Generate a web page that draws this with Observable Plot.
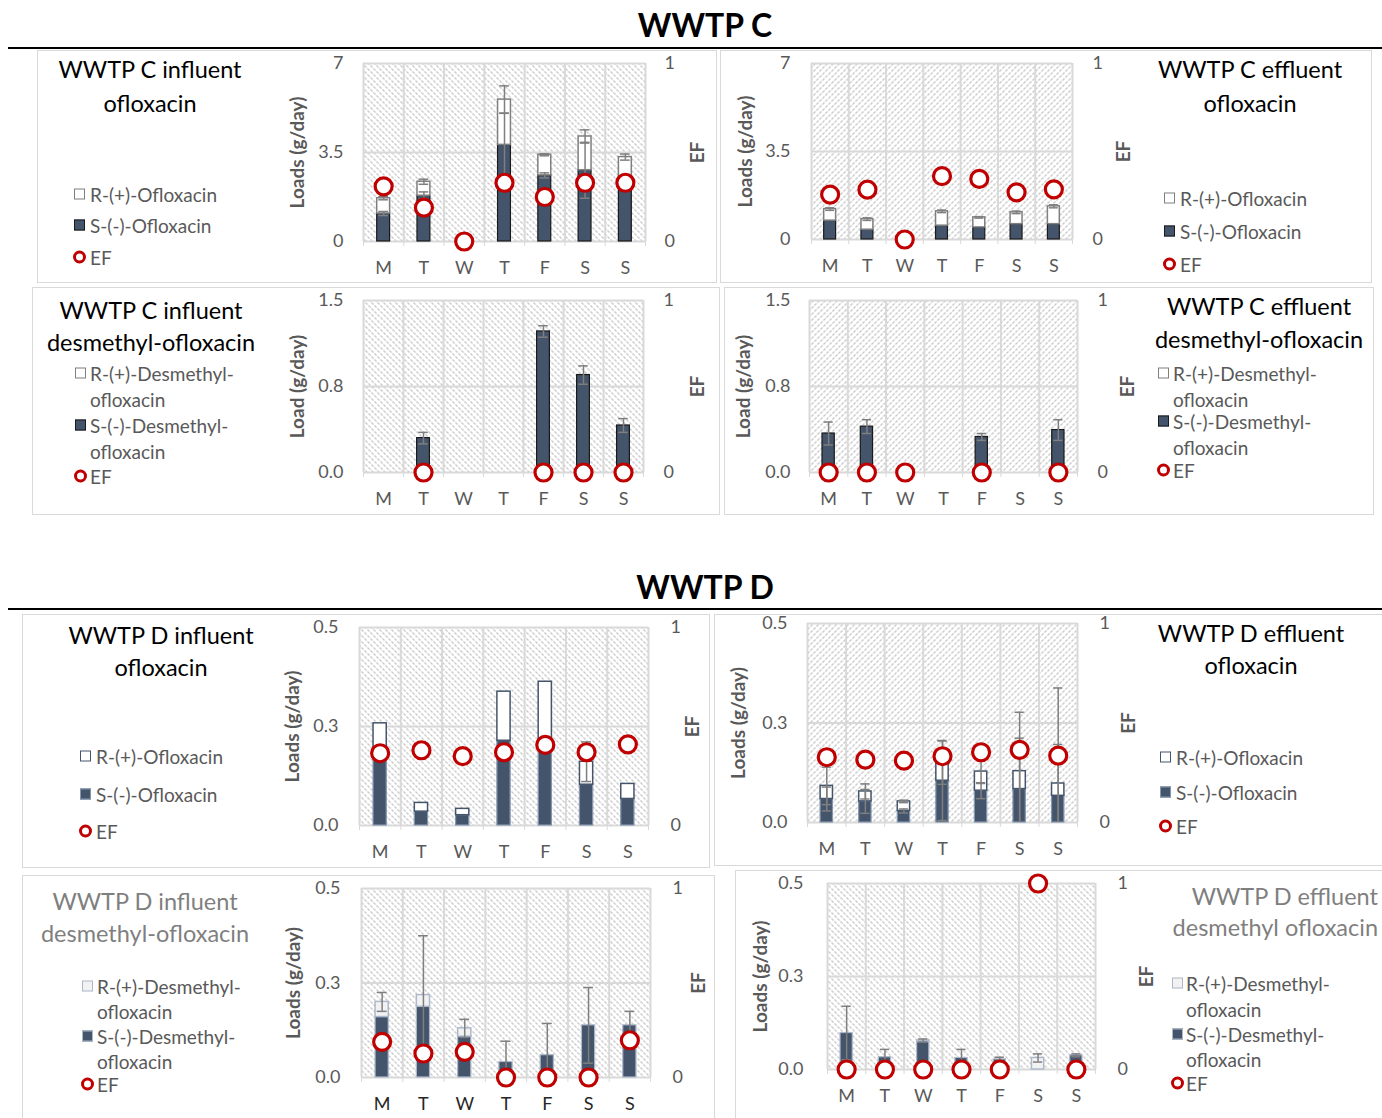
<!DOCTYPE html>
<html><head><meta charset="utf-8">
<script src="https://cdn.jsdelivr.net/npm/d3@7"></script>
<script src="https://cdn.jsdelivr.net/npm/@observablehq/plot@0.6"></script>
<style>
body{margin:0;background:#fff;font-family:Lato,"Open Sans",sans-serif;}
#root{position:relative;width:1382px;height:1118px;overflow:hidden;background:#fff;}
.box{position:absolute;border:1.5px solid #d9d9d9;box-sizing:border-box;pointer-events:none;}
.t{position:absolute;white-space:nowrap;transform:translate(-50%,-50%);font-size:23.5px;line-height:1;}
.tr{position:absolute;white-space:nowrap;transform:translate(-100%,-50%);font-size:23.5px;line-height:1;}
.lg{position:absolute;white-space:nowrap;transform:translateY(-50%);font-size:19px;line-height:1;color:#595959;}
.sw{position:absolute;width:11px;height:11px;transform:translateY(-50%);box-sizing:border-box;}
.ef{position:absolute;width:13px;height:13px;border:3px solid #c00000;border-radius:50%;transform:translateY(-50%);box-sizing:border-box;background:#fff;}
.head{position:absolute;font-weight:bold;font-size:32px;line-height:1;transform:translate(-50%,-50%);color:#000;white-space:nowrap;}
.sep{position:absolute;left:8px;right:0;height:2px;background:#000;}
svg{position:absolute;}
</style></head>
<body><div id="root"></div>
<script>
const days = ["M","T","W","T","F","S","S"];

// WWTP C influent ofloxacin
const cInfOflox_S    = [1.10, 1.80, null, 3.80, 2.60, 2.80, 2.40];
const cInfOflox_R    = [0.60, 0.55, null, 1.78, 0.81, 1.33, 0.92];
const cInfOflox_err  = [0.06, 0.10, null, 0.54, 0.04, 0.26, 0.12];
const cInfOflox_Serr = [0.08, 0.15, null, 1.25, 0.10, 1.10, 0.10];
const cInfOflox_EF   = [0.31, 0.19, 0.00, 0.33, 0.25, 0.33, 0.33];

// WWTP C effluent ofloxacin
const cEffOflox_S    = [0.75, 0.39, null, 0.55, 0.48, 0.61, 0.61];
const cEffOflox_R    = [0.46, 0.42, null, 0.57, 0.40, 0.47, 0.71];
const cEffOflox_err  = [0.05, 0.05, null, 0.05, 0.03, 0.05, 0.06];
const cEffOflox_EF   = [0.255, 0.283, 0.00, 0.36, 0.344, 0.268, 0.285];

// WWTP C influent desmethyl-ofloxacin
const cInfDesm_S     = [null, 0.30, null, null, 1.23, 0.85, 0.41];
const cInfDesm_Serr  = [null, 0.05, null, null, 0.05, 0.08, 0.06];
const cInfDesm_EF    = [null, 0, null, null, 0, 0, 0];

// WWTP C effluent desmethyl-ofloxacin
const cEffDesm_S     = [0.34, 0.40, null, null, 0.31, null, 0.37];
const cEffDesm_Serr  = [0.10, 0.06, null, null, 0.03, null, 0.09];
const cEffDesm_EF    = [0, 0, 0, null, 0, null, 0];

// WWTP D influent ofloxacin
const dInfOflox_S    = [0.190, 0.035, 0.026, 0.214, 0.210, 0.103, 0.067];
const dInfOflox_R    = [0.068, 0.022, 0.016, 0.124, 0.153, 0.058, 0.038];
const dInfOflox_err  = [null, null, null, null, null, 0.05, null];
const dInfOflox_EF   = [0.365, 0.38, 0.35, 0.37, 0.407, 0.37, 0.41];

// WWTP D effluent ofloxacin
const dEffOflox_S    = [0.059, 0.053, 0.029, 0.105, 0.080, 0.084, 0.067];
const dEffOflox_R    = [0.033, 0.025, 0.024, 0.046, 0.048, 0.045, 0.031];
const dEffOflox_err  = [0.047, 0.019, 0.003, 0.055, 0.030, 0.148, 0.240];
const dEffOflox_Serr = [0.030, 0.030, 0.005, 0.100, 0.020, 0.128, 0.129];
const dEffOflox_EF   = [0.328, 0.316, 0.311, 0.333, 0.353, 0.365, 0.336];

// WWTP D influent desmethyl-ofloxacin
const dInfDesm_S     = [0.160, 0.187, 0.108, 0.041, 0.059, 0.138, 0.138];
const dInfDesm_R     = [0.040, 0.031, 0.022, null, null, null, null];
const dInfDesm_err   = [0.025, 0.157, 0.024, 0.055, 0.084, 0.100, 0.037];
const dInfDesm_EF    = [0.189, 0.127, 0.136, 0, 0, 0, 0.197];

// WWTP D effluent desmethyl ofloxacin
const dEffDesm_S     = [0.098, 0.033, 0.074, 0.031, 0.027, null, 0.038];
const dEffDesm_R     = [null, null, 0.004, null, null, 0.031, null];
const dEffDesm_err   = [0.072, 0.021, 0.004, 0.023, 0.006, 0.011, 0.004];
const dEffDesm_EF    = [0, 0, 0, 0, 0, 1, 0];

const yTicksC = [0, 3.5, 7],   yLabelsC = ["0", "3.5", "7"];
const yTicksCd = [0, 0.75, 1.5], yLabelsCd = ["0.0", "0.8", "1.5"];
const yTicksD = [0, 0.25, 0.5], yLabelsD = ["0.0", "0.3", "0.5"];

const styleC  = {sFill:"#44546a", sStroke:"#1a1a1a", rFill:"#fff", rStroke:"#7f7f7f", rW:1.5};
const styleD  = {sFill:"#44546a", sStroke:"#8497b0", rFill:"#fff", rStroke:"#44546a", rW:1.5};
const styleDd = {sFill:"#44546a", sStroke:"#adb9ca", rFill:"#f2f2f2", rStroke:"#adb9ca", rW:1.5};

const panels = [
  {id:"p1", box:[37,50,717,283], frame:[363,63,645,241], S:cInfOflox_S, R:cInfOflox_R, err:cInfOflox_err, serr:cInfOflox_Serr, EF:cInfOflox_EF,
   yTicks:yTicksC, yLabels:yLabelsC, ylabel:"Loads (g/day)", ylabDx:-66, efDx:52, padL:20, padR:19, hatch:"in", st:styleC,
   title:["WWTP C influent","ofloxacin"], tx:150, ty:[70,104], tc:"#000",
   legend:{sx:73, tx:90, items:[["R",["R-(+)-Ofloxacin"],[194]],["S",["S-(-)-Ofloxacin"],[225]],["EF",["EF"],[257]]]}},
  {id:"p2", box:[720,50,1372,283], frame:[811,63,1072,239], S:cEffOflox_S, R:cEffOflox_R, err:cEffOflox_err, EF:cEffOflox_EF,
   yTicks:yTicksC, yLabels:yLabelsC, ylabel:"Loads (g/day)", ylabDx:-66, efDx:51, padL:21, padR:20, hatch:"out", st:styleC,
   title:["WWTP C effluent","ofloxacin"], tx:1250, ty:[70,104], tc:"#000",
   legend:{sx:1163, tx:1180, items:[["R",["R-(+)-Ofloxacin"],[198]],["S",["S-(-)-Ofloxacin"],[231]],["EF",["EF"],[264]]]}},
  {id:"p3", box:[32,287,720,515], frame:[363,300,643,472], S:cInfDesm_S, serr:cInfDesm_Serr, EF:cInfDesm_EF,
   yTicks:yTicksCd, yLabels:yLabelsCd, ylabel:"Load (g/day)", ylabDx:-66, efDx:54, padL:20, padR:20, hatch:"in", st:styleC,
   title:["WWTP C influent","desmethyl-ofloxacin"], tx:151, ty:[311,343], tc:"#000",
   legend:{sx:74, tx:90, items:[["R",["R-(+)-Desmethyl-","ofloxacin"],[373,399]],["S",["S-(-)-Desmethyl-","ofloxacin"],[425,451]],["EF",["EF"],[476]]]}},
  {id:"p4", box:[724,287,1374,515], frame:[809,300,1077,472], S:cEffDesm_S, serr:cEffDesm_Serr, EF:cEffDesm_EF,
   yTicks:yTicksCd, yLabels:yLabelsCd, ylabel:"Load (g/day)", ylabDx:-66, efDx:50, padL:19, padR:20, hatch:"out", st:styleC,
   title:["WWTP C effluent","desmethyl-ofloxacin"], tx:1259, ty:[307,340], tc:"#000",
   legend:{sx:1157, tx:1173, items:[["R",["R-(+)-Desmethyl-","ofloxacin"],[373,399]],["S",["S-(-)-Desmethyl-","ofloxacin"],[421,447]],["EF",["EF"],[470]]]}},
  {id:"p5", box:[22,614,710,868], frame:[359,627,648,825], S:dInfOflox_S, R:dInfOflox_R, err:dInfOflox_err, EF:dInfOflox_EF,
   yTicks:yTicksD, yLabels:yLabelsD, ylabel:"Loads (g/day)", ylabDx:-67, efDx:44, padL:21, padR:22, hatch:"in", st:styleD,
   title:["WWTP D influent","ofloxacin"], tx:161, ty:[636,668], tc:"#000",
   legend:{sx:79, tx:96, items:[["R",["R-(+)-Ofloxacin"],[756]],["S",["S-(-)-Ofloxacin"],[794]],["EF",["EF"],[831]]]}},
  {id:"p6", box:[714,614,1390,866], frame:[807,623,1077,822], S:dEffOflox_S, R:dEffOflox_R, err:dEffOflox_err, serr:dEffOflox_Serr, EF:dEffOflox_EF,
   yTicks:yTicksD, yLabels:yLabelsD, ylabel:"Loads (g/day)", ylabDx:-69, efDx:51, padL:20, padR:22, hatch:"out", st:styleD,
   title:["WWTP D effluent","ofloxacin"], tx:1251, ty:[634,666], tc:"#000",
   legend:{sx:1159, tx:1176, items:[["R",["R-(+)-Ofloxacin"],[757]],["S",["S-(-)-Ofloxacin"],[792]],["EF",["EF"],[826]]]}},
  {id:"p7", box:[22,875,715,1125], frame:[361,888,650,1077], S:dInfDesm_S, R:dInfDesm_R, err:dInfDesm_err, EF:dInfDesm_EF,
   yTicks:yTicksD, yLabels:yLabelsD, ylabel:"Loads (g/day)", ylabDx:-68, efDx:48, padL:21, padR:22, hatch:"in", st:styleDd, xc:"#262626",
   title:["WWTP D influent","desmethyl-ofloxacin"], tx:145, ty:[902,934], tc:"#7f7f7f",
   legend:{sx:81, tx:97, items:[["R",["R-(+)-Desmethyl-","ofloxacin"],[986,1011]],["S",["S-(-)-Desmethyl-","ofloxacin"],[1036,1061]],["EF",["EF"],[1084]]]}},
  {id:"p8", box:[735,870,1390,1125], frame:[827,883,1095,1069], S:dEffDesm_S, R:dEffDesm_R, err:dEffDesm_err, EF:dEffDesm_EF,
   yTicks:yTicksD, yLabels:yLabelsD, ylabel:"Loads (g/day)", ylabDx:-67, efDx:51, padL:24, padR:22, hatch:"in", st:styleDd,
   title:["WWTP D effluent","desmethyl ofloxacin"], tx:1378, ty:[897,928], tc:"#7f7f7f", right:true,
   legend:{sx:1171, tx:1186, items:[["R",["R-(+)-Desmethyl-","ofloxacin"],[983,1009]],["S",["S-(-)-Desmethyl-","ofloxacin"],[1034,1059]],["EF",["EF"],[1083]]]}}
];

const root = document.getElementById("root");
function el(cls, css, text) {
  const d = document.createElement("div");
  d.className = cls;
  Object.assign(d.style, css);
  if (text != null) d.textContent = text;
  root.appendChild(d);
  return d;
}

// headings
el("head", {left:"705px", top:"25px"}, "WWTP C");
el("sep", {top:"47px"});
el("head", {left:"705px", top:"587px"}, "WWTP D");
el("sep", {top:"608px"});

function makePanel(p) {
  const [bx1, by1, bx2, by2] = p.box;
  const [fx1, fy1, fx2, fy2] = p.frame;
  const ymax = p.yTicks[2];
  const rows = days.map((d, i) => {
    const S = p.S[i] ?? null, R = p.R ? (p.R[i] ?? null) : null;
    return {i, S, R, tot: (S || 0) + (R || 0),
      err: p.err ? (p.err[i] ?? null) : null, serr: p.serr ? (p.serr[i] ?? null) : null, ef: p.EF[i]};
  });
  const edges = d3.range(8).map(k => k - 0.5);
  const hw = 0.16, cw = 0.12;
  const sRows = rows.filter(r => r.S > 0);
  const rRows = rows.filter(r => r.R > 0);
  const eRows = rows.filter(r => r.err != null && r.tot > 0);
  const seRows = rows.filter(r => r.serr != null && r.S > 0);
  const efRows = rows.filter(r => r.ef != null);
  const ec = "#7f7f7f";
  const errMarks = (data, c, e) => [
    Plot.ruleX(data, {x: "i", y1: r => Math.max(0, r[c] - r[e]), y2: r => r[c] + r[e], stroke: ec, strokeWidth: 1.5}),
    Plot.ruleY(data, {y: r => r[c] + r[e], x1: r => r.i - cw, x2: r => r.i + cw, stroke: ec, strokeWidth: 1.5}),
    Plot.ruleY(data.filter(r => r[c] - r[e] > 0), {y: r => r[c] - r[e], x1: r => r.i - cw, x2: r => r.i + cw, stroke: ec, strokeWidth: 1.5})
  ];
  const svg = Plot.plot({
    width: bx2 - bx1, height: by2 - by1,
    marginLeft: fx1 - bx1, marginRight: bx2 - fx2, marginTop: fy1 - by1, marginBottom: by2 - fy2,
    x: {type: "linear", domain: [-0.5, 6.5]},
    y: {type: "linear", domain: [0, ymax]},
    style: {background: "transparent", fontSize: "18px", fontFamily: "Lato, 'Open Sans', sans-serif", color: "#595959", overflow: "visible"},
    marks: [
      Plot.frame({fill: `url(#${p.id}h)`, stroke: "none"}),
      Plot.ruleX(edges, {stroke: "#d9d9d9", strokeWidth: 2}),
      Plot.ruleY(p.yTicks, {stroke: "#d9d9d9", strokeWidth: 2}),
      Plot.rect(sRows, {x1: r => r.i - hw, x2: r => r.i + hw, y1: 0, y2: "S", fill: p.st.sFill, stroke: p.st.sStroke, strokeWidth: 1.2}),
      Plot.rect(rRows, {x1: r => r.i - hw, x2: r => r.i + hw, y1: r => r.S || 0, y2: "tot", fill: p.st.rFill, stroke: p.st.rStroke, strokeWidth: p.st.rW}),
      ...errMarks(seRows, "S", "serr"),
      ...errMarks(eRows, "tot", "err"),
      Plot.dot(efRows, {x: "i", y: r => r.ef * ymax, r: 8.5, stroke: "#c00000", strokeWidth: 3.2, fill: "white"}),
      Plot.axisY({anchor: "left", ticks: p.yTicks, tickFormat: d => p.yLabels[p.yTicks.indexOf(d)], tickSize: 0, tickPadding: p.padL, label: null}),
      Plot.axisY({anchor: "right", ticks: [0, ymax], tickFormat: d => (d === 0 ? "0" : "1"), tickSize: 0, tickPadding: p.padR, label: null}),
      Plot.axisX({ticks: edges, tickFormat: () => "", tickSize: 5, stroke: "#d9d9d9", label: null}),
      Plot.axisX({ticks: d3.range(7), tickFormat: i => days[i], tickSize: 0, tickPadding: 20, label: null, fill: p.xc || "#595959"}),
      Plot.text([p.ylabel], {frameAnchor: "left", text: d => d, rotate: -90, dx: p.ylabDx, textAnchor: "middle", lineAnchor: "middle", fontWeight: "bold", fontSize: 19, fill: "#595959"}),
      Plot.text(["EF"], {frameAnchor: "right", text: d => d, rotate: -90, dx: p.efDx, textAnchor: "middle", lineAnchor: "middle", fontWeight: "bold", fontSize: 19, fill: "#595959"})
    ]
  });
  const ns = "http://www.w3.org/2000/svg";
  const defs = document.createElementNS(ns, "defs");
  const path = p.hatch === "in"
    ? "M0,0 L6,6 M-1,5 L1,7 M5,-1 L7,1"
    : "M0,6 L6,0 M-1,1 L1,-1 M5,7 L7,5";
  defs.innerHTML = `<pattern id="${p.id}h" patternUnits="userSpaceOnUse" width="6" height="6"><rect width="6" height="6" fill="#fff"/><path d="${path}" stroke="#9a9a9a" stroke-width="1" stroke-dasharray="3 1.2"/></pattern>`;
  svg.insertBefore(defs, svg.firstChild);
  svg.querySelectorAll('rect[aria-label="frame"], [aria-label="frame"] rect').forEach(r => r.setAttribute("fill", `url(#${p.id}h)`));
  svg.style.left = bx1 + "px";
  svg.style.top = by1 + "px";
  root.appendChild(svg);

  el("box", {left: bx1 + "px", top: by1 + "px", width: (bx2 - bx1) + "px", height: (by2 - by1) + "px"});
  p.title.forEach((t, k) => el(p.right ? "tr" : "t", {left: p.tx + "px", top: p.ty[k] + "px", color: p.tc}, t));
  p.legend.items.forEach(([type, lines, ys]) => {
    if (type === "EF") {
      el("ef", {left: p.legend.sx + "px", top: ys[0] + "px"});
    } else {
      const fill = type === "R" ? p.st.rFill : p.st.sFill;
      const stroke = type === "R" ? p.st.rStroke : p.st.sStroke;
      el("sw", {left: (p.legend.sx + 1) + "px", top: ys[0] + "px", background: fill, border: `1.5px solid ${stroke}`});
    }
    lines.forEach((ln, k) => el("lg", {left: p.legend.tx + "px", top: ys[k] + "px"}, ln));
  });
}
panels.forEach(makePanel);
</script>
</body></html>
